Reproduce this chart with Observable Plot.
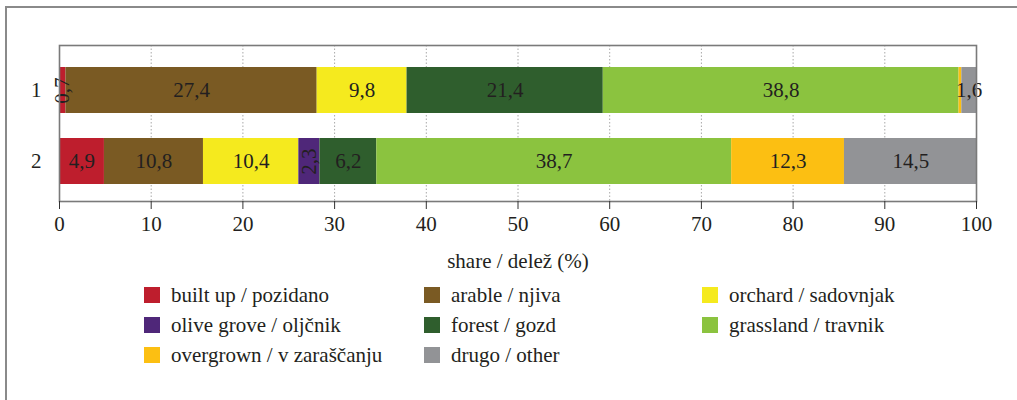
<!DOCTYPE html>
<html>
<head>
<meta charset="utf-8">
<script src="https://cdn.jsdelivr.net/npm/d3@7"></script>
<script src="https://cdn.jsdelivr.net/npm/@observablehq/plot@0.6"></script>
<style>
  html, body { margin: 0; padding: 0; background: #fff; }
  body { width: 1017px; height: 400px; position: relative; overflow: hidden; font-family: "Liberation Serif", "DejaVu Serif", serif; color: #231f20; }
  .frame-top { position: absolute; left: 5px; top: 6px; width: 1020px; height: 2px; background: #8a8a8a; z-index: 10; }
  .frame-left { position: absolute; left: 5px; top: 6px; width: 2px; height: 400px; background: #8a8a8a; z-index: 10; }
  #chart svg { display: block; background: transparent; }
  .legend { display: grid; grid-template-columns: 280px 278px auto; padding-left: 144px; font-size: 21px; }
  .legend .item { display: flex; align-items: center; height: 30px; white-space: nowrap; }
  .legend .sw { width: 16px; height: 16px; margin-right: 11px; flex: none; }
</style>
</head>
<body>
<div class="frame-top"></div>
<div class="frame-left"></div>
<div id="chart"></div>
<div class="legend" id="legend"></div>
<script>
const rows = ["1", "2"];
const categories = [
  "built up / pozidano",
  "arable / njiva",
  "orchard / sadovnjak",
  "olive grove / oljčnik",
  "forest / gozd",
  "grassland / travnik",
  "overgrown / v zaraščanju",
  "drugo / other"
];
const series1 = [0.7, 27.4, 9.8, 0, 21.4, 38.8, 0.3, 1.6];
const series2 = [4.9, 10.8, 10.4, 2.3, 6.2, 38.7, 12.3, 14.5];
const colors = ["#be1e2d", "#7a5a23", "#f5ea1e", "#4f2779", "#2f5e2d", "#8bc33f", "#fcbf12", "#929396"];
const xTicks = [0, 10, 20, 30, 40, 50, 60, 70, 80, 90, 100];
const xLabel = "share / delež (%)";

const data = [];
[series1, series2].forEach((s, r) => {
  s.forEach((v, i) => data.push({row: rows[r], cat: categories[i], value: v, idx: i}));
});
const fmt = v => v.toFixed(1).replace(".", ",");
const last = categories.length - 1;
const horizText = d => (d.value >= 3 || (d.idx === last && d.value >= 0.5)) ? fmt(d.value) : "";
const vertText = d => (d.value >= 0.5 && d.value < 3 && d.idx !== last) ? fmt(d.value) : "";
const FS = 21;

const plot = Plot.plot({
  width: 1017,
  height: 280,
  marginLeft: 59,
  marginRight: 41,
  marginTop: 45,
  marginBottom: 79,
  style: {fontFamily: "Liberation Serif, DejaVu Serif, serif", fontSize: FS + "px", color: "#231f20", background: "transparent"},
  x: {domain: [0, 100], ticks: xTicks, label: null},
  y: {domain: rows, paddingInner: 0.352, paddingOuter: 0.265, align: 0.557, label: null},
  color: {domain: categories, range: colors},
  marks: [
    Plot.gridX(xTicks, {stroke: "#a8a8a8", strokeOpacity: 1, strokeDasharray: "1.5,2"}),
    Plot.barX(data, Plot.stackX({x: "value", y: "row", fill: "cat", z: "cat", order: categories})),
    Plot.text(data, Plot.stackX({x: "value", y: "row", z: "cat", order: categories, text: horizText, fill: "#231f20", fontSize: FS})),
    Plot.text(data, Plot.stackX({x: "value", y: "row", z: "cat", order: categories, text: vertText, rotate: -90, fill: "#231f20", fontSize: FS})),
    Plot.frame({stroke: "#7a7a7a", strokeWidth: 1.6}),
    Plot.axisX(xTicks, {tickSize: 8, tickPadding: 7, stroke: "#333", fill: "#231f20", fontSize: FS, label: null}),
    Plot.axisY(rows, {tickSize: 0, tickPadding: 18, fill: "#231f20", fontSize: FS, label: null}),
    Plot.text([xLabel], {frameAnchor: "bottom", dy: 60, lineAnchor: "middle", fontSize: FS, fill: "#231f20"})
  ]
});
document.getElementById("chart").appendChild(plot);

const legend = document.getElementById("legend");
categories.forEach((c, i) => {
  const item = document.createElement("div");
  item.className = "item";
  const sw = document.createElement("span");
  sw.className = "sw";
  sw.style.background = colors[i];
  const t = document.createElement("span");
  t.textContent = c;
  item.appendChild(sw);
  item.appendChild(t);
  legend.appendChild(item);
});
</script>
</body>
</html>
